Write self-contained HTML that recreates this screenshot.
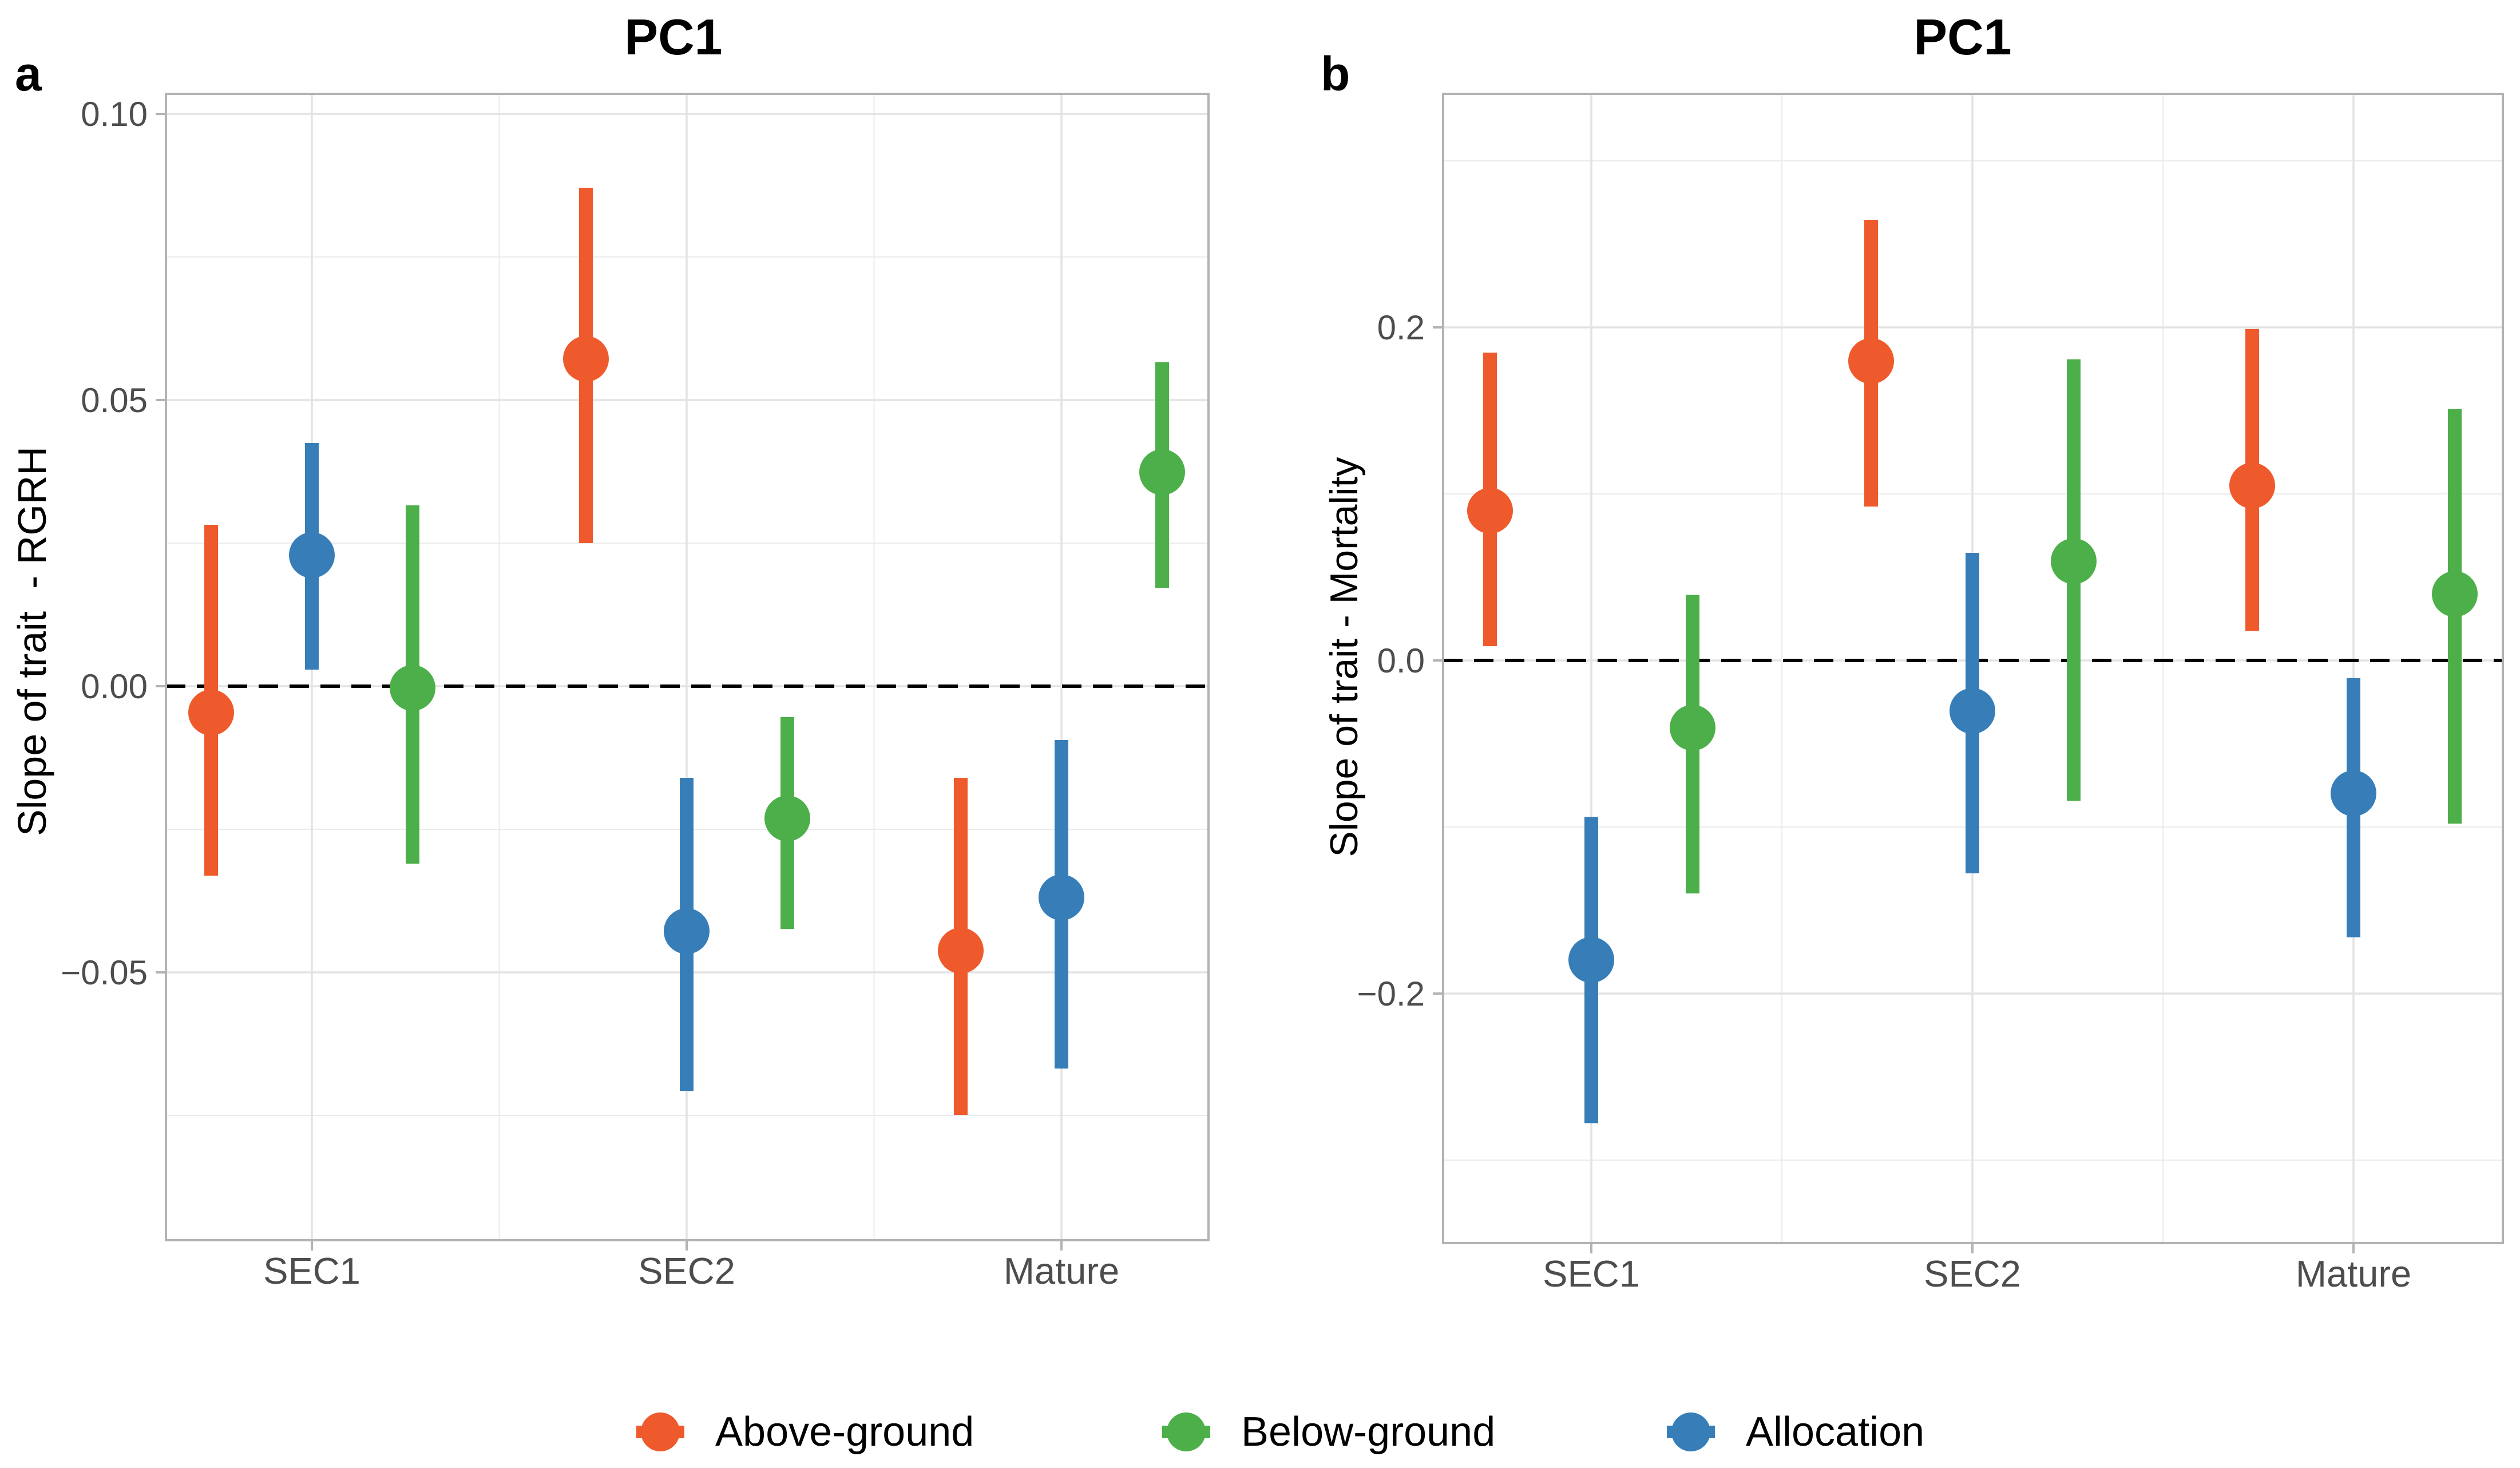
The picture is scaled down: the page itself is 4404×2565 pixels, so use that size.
<!DOCTYPE html>
<html><head><meta charset="utf-8">
<style>html,body{margin:0;padding:0;background:#fff}svg{display:block}text{white-space:pre}</style>
</head><body>
<svg id="chart" xmlns="http://www.w3.org/2000/svg" width="4404" height="2565" viewBox="0 0 4404 2565" font-family="Liberation Sans, Arial, sans-serif">
<rect width="4404" height="2565" fill="#fff"/>
<g id="pa"></g>
<g id="pb"></g>
<g id="legend"></g>
</svg>
<script>
const categories = ["SEC1","SEC2","Mature"];
const groups = ["Above-ground","Allocation","Below-ground"];
const colors = ["#EF5A2C","#377EB8","#4DAF4A"];
// panel a (RGRH): [SEC1, SEC2, Mature] per group
const aEst = [[-0.0046,0.0572,-0.0462],[0.0229,-0.0428,-0.0369],[-0.0003,-0.0231,0.0374]];
const aLow = [[-0.0331,0.0250,-0.0749],[0.0029,-0.0707,-0.0668],[-0.0310,-0.0424,0.0172]];
const aHigh = [[0.0282,0.0871,-0.0160],[0.0425,-0.0160,-0.0094],[0.0316,-0.0054,0.0566]];
const aTicks = [-0.05,0,0.05,0.10];
const aTickLabels = ["\u22120.05","0.00","0.05","0.10"];
const aMinor = [-0.075,-0.025,0.025,0.075];
// panel b (Mortality)
const bEst = [[0.0899,0.1798,0.1050],[-0.1798,-0.0303,-0.0798],[-0.0404,0.0596,0.0399]];
const bLow = [[0.0086,0.0924,0.0177],[-0.2778,-0.1278,-0.1662],[-0.1399,-0.0843,-0.0980]];
const bHigh = [[0.1848,0.2646,0.1990],[-0.0940,0.0646,-0.0106],[0.0394,0.1808,0.1510]];
const bTicks = [-0.2,0,0.2];
const bTickLabels = ["\u22120.2","0.0","0.2"];
const bMinor = [-0.3,-0.1,0.1,0.3];

const NS="http://www.w3.org/2000/svg";
function mk(parent,tag,attrs,text){const e=document.createElementNS(NS,tag);for(const k in attrs)e.setAttribute(k,attrs[k]);if(text!==undefined)e.textContent=text;parent.appendChild(e);return e;}

function panel(g,cfg){
  const {L,R,T,B,y0,yscale,catX,dodge,est,low,high,ticks,tickLabels,minor,title,letter,letterX,ylab,ylabX,titleX,ylabSize,ylabShift} = cfg;
  const y = v => y0 - v*yscale;
  const x = i => catX[0] + i*(catX[1]-catX[0]);
  minor.forEach(v=>{const l=mk(g,"line",{x1:L,x2:R,y1:y(v),y2:y(v),stroke:"#EBEBEB","stroke-width":2});
    
    });
  for(let i=0;i<categories.length-1;i++){const xm=(x(i)+x(i+1))/2;const l=mk(g,"line",{x1:xm,x2:xm,y1:T,y2:B,stroke:"#EBEBEB","stroke-width":2});
    
    }
  ticks.forEach((v,i)=>{const l=mk(g,"line",{x1:L,x2:R,y1:y(v),y2:y(v),stroke:"#E3E3E3","stroke-width":3.5});
    
    
    const t=mk(g,"line",{x1:L-18,x2:L,y1:y(v),y2:y(v),stroke:"#B3B3B3","stroke-width":4});
    
    
    const tx=mk(g,"text",{x:L-32,y:y(v)+21,"text-anchor":"end","font-size":60,fill:"#4D4D4D"},tickLabels[i]);
    
    });
  categories.forEach((c,i)=>{const l=mk(g,"line",{x1:x(i),x2:x(i),y1:T,y2:B,stroke:"#E3E3E3","stroke-width":3.5});
    
    
    const t=mk(g,"line",{x1:x(i),x2:x(i),y1:B,y2:B+18,stroke:"#B3B3B3","stroke-width":4});
    
    
    const tx=mk(g,"text",{x:x(i),y:B+76,"text-anchor":"middle","font-size":65,fill:"#4D4D4D"},c);
    
    });
  const z=mk(g,"line",{x1:L,x2:R,y1:y(0),y2:y(0),stroke:"#000","stroke-width":6,"stroke-dasharray":"34 20"});
  
  
  [0,1,2].forEach(gi=>{categories.forEach((c,ci)=>{
    const cx = x(ci) + (gi-1)*dodge;
    const bar=mk(g,"line",{x1:cx,x2:cx,y1:y(low[gi][ci]),y2:y(high[gi][ci]),stroke:colors[gi],"stroke-width":24});
    
    
    const pt=mk(g,"circle",{cx:cx,cy:y(est[gi][ci]),r:40,fill:colors[gi]});
    
    
  });});
  const box=mk(g,"rect",{x:L,y:T,width:R-L,height:B-T,fill:"none",stroke:"#B3B3B3","stroke-width":4});
  
  
  const ti=mk(g,"text",{x:titleX,y:95,"text-anchor":"middle","font-size":88,"font-weight":"bold",fill:"#000"},title);
  
  
  const le=mk(g,"text",{x:letterX,y:158,"font-size":84,"font-weight":"bold",fill:"#000"},letter);
  
  
  const yc=(T+B)/2+ylabShift;
  const yl=mk(g,"text",{x:ylabX,y:yc,"text-anchor":"middle","font-size":ylabSize,fill:"#000",transform:`rotate(-90 ${ylabX} ${yc})`},ylab);
  
  
}

panel(document.getElementById("pa"),{L:290,R:2112,T:164,B:2167,y0:1199,yscale:10000,catX:[545,1200],dodge:176,
  est:aEst,low:aLow,high:aHigh,ticks:aTicks,tickLabels:aTickLabels,minor:aMinor,title:"PC1",letter:"a",letterX:26,
  ylab:"Slope of trait  - RGRH",ylabX:80,titleX:1177,ylabSize:70,ylabShift:-45});
panel(document.getElementById("pb"),{L:2522,R:4374,T:164,B:2172,y0:1154,yscale:2910,catX:[2781,3447],dodge:177,
  est:bEst,low:bLow,high:bHigh,ticks:bTicks,tickLabels:bTickLabels,minor:bMinor,title:"PC1",letter:"b",letterX:2308,
  ylab:"Slope of trait - Mortality",ylabX:2372,titleX:3430,ylabSize:68,ylabShift:-20});

const legendOrder=[0,2,1];
const legX=[1154,2073,2955];
const lg=document.getElementById("legend");
legendOrder.forEach((gi,k)=>{
  const e=mk(lg,"g",{});
  
  
  mk(e,"line",{x1:legX[k]-42,x2:legX[k]+42,y1:2502,y2:2502,stroke:colors[gi],"stroke-width":22});
  mk(e,"circle",{cx:legX[k],cy:2502,r:34,fill:colors[gi]});
  mk(e,"text",{x:legX[k]+96,y:2526,"font-size":72,fill:"#000"},groups[gi]);
});
</script>
</body></html>
